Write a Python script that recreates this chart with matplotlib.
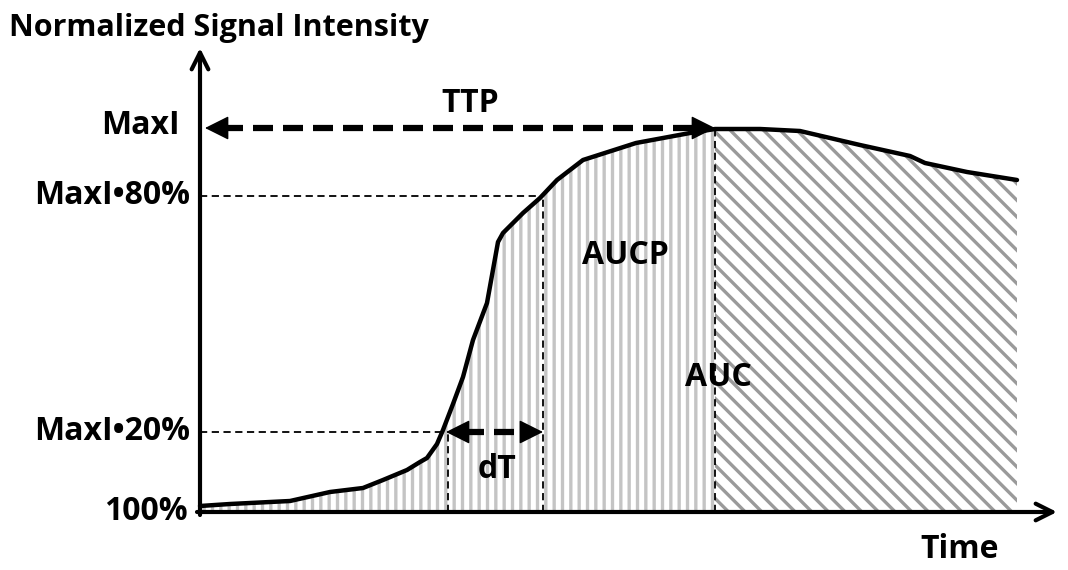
import numpy as np
import matplotlib.pyplot as plt

plt.rcParams['font.family'] = ['Open Sans', 'DejaVu Sans']
plt.rcParams['font.weight'] = 'bold'
plt.rcParams['hatch.linewidth'] = 2.4

# curve (time, normalized intensity in picture units)
time = [0, 30, 90, 130, 163, 183, 207, 220, 227, 237, 243, 253, 263, 273, 287,
        298, 303, 323, 340, 357, 383, 436, 490, 515, 560, 600, 630, 660, 710,
        725, 767, 817]
signal = [6, 8, 11, 20, 24, 32, 42, 50, 54, 68, 82, 108, 135, 172, 209,
          270, 279, 299, 314, 332, 352, 369, 379, 383, 383, 381, 374, 367, 356,
          349, 340, 332]

max_i = 384
i80 = 316
i20 = 80
t20 = 245     # time where curve crosses 20%
t80 = 343     # time where curve crosses 80%
ttp = 515     # time to peak

time = np.array(time)
signal = np.array(signal)

fig = plt.figure(figsize=(10.68, 5.7), dpi=100)
ax = fig.add_axes([0, 0, 1, 1])
ax.set_xlim(-200, 868)
ax.set_ylim(-58, 512)
ax.axis('off')

# shaded areas
ax.fill_between(time, 0, signal, where=time <= ttp, facecolor='white',
                edgecolor='#c4c4c4', hatch='||', linewidth=0, zorder=1)
ax.fill_between(time, 0, signal, where=time >= ttp, facecolor='white',
                edgecolor='#9a9a9a', hatch='\\\\', linewidth=0, zorder=1)

# thin dashed guide lines
thin = dict(color='black', lw=1.3, ls=(0, (4, 2.5)), zorder=2)
ax.plot([0, t80], [i80, i80], **thin)
ax.plot([0, t20], [i20, i20], **thin)
ax.plot([t20 + 3, t20 + 3], [0, i20], **thin)
ax.plot([t80, t80], [0, i80], **thin)
ax.plot([ttp, ttp], [0, max_i], **thin)

# curve
ax.plot(time, signal, color='black', lw=3.2, zorder=3, solid_capstyle='round')

# axes with open arrow heads
ax.annotate('', xy=(0, 464), xytext=(0, -3),
            arrowprops=dict(arrowstyle='->', lw=3, color='black',
                            mutation_scale=30, shrinkA=0, shrinkB=0), zorder=4)
ax.annotate('', xy=(857, 0), xytext=(-3, 0),
            arrowprops=dict(arrowstyle='->', lw=3, color='black',
                            mutation_scale=30, shrinkA=0, shrinkB=0), zorder=4)

# thick dashed double arrows
def dbl_arrow(x0, x1, y):
    ax.plot([x0 + 18, x1 - 18], [y, y], color='black', lw=4.5,
            ls=(0, (3.2, 1.6)), zorder=5)
    for a, b in [(x0 + 20, x0), (x1 - 20, x1)]:
        ax.annotate('', xy=(b, y), xytext=(a, y),
                    arrowprops=dict(arrowstyle='-|>', lw=1, color='black',
                                    mutation_scale=38, shrinkA=0, shrinkB=0),
                    zorder=5)

dbl_arrow(5, ttp, max_i)
dbl_arrow(t20 + 1, t80, i20)

# labels
ax.text(-191, 484, 'Normalized Signal Intensity', fontsize=22, ha='left', va='center')
fs = 23
ax.text(-20, max_i + 2, 'MaxI', fontsize=fs, ha='right', va='center')
ax.text(-10, i80 + 1, 'MaxI\u202280%', fontsize=fs, ha='right', va='center')
ax.text(-10, i20 + 1, 'MaxI\u202220%', fontsize=fs, ha='right', va='center')
ax.text(-12, 0, '100%', fontsize=fs, ha='right', va='center')
ax.text(270, 409, 'TTP', fontsize=fs, ha='center', va='center')
ax.text(425, 257, 'AUCP', fontsize=fs, ha='center', va='center')
ax.text(518, 134, 'AUC', fontsize=fs, ha='center', va='center')
ax.text(297, 42, 'dT', fontsize=fs, ha='center', va='center')
ax.text(760, -38, 'Time', fontsize=fs, ha='center', va='center')

fig.savefig('out.png', dpi=100)
